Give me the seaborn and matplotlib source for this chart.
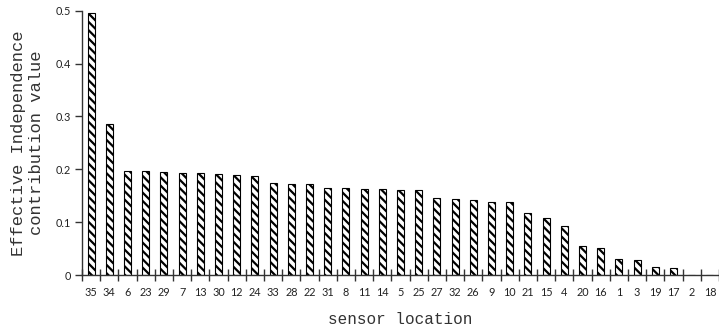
import matplotlib
matplotlib.use("Agg")
import matplotlib.pyplot as plt
import seaborn as sns
import numpy as np
import pandas as pd

sensors = ["35", "34", "6", "23", "29", "7", "13", "30", "12", "24", "33", "28",
           "22", "31", "8", "11", "14", "5", "25", "27", "32", "26", "9", "10",
           "21", "15", "4", "20", "16", "1", "3", "19", "17", "2", "18"]
values = [0.495, 0.285, 0.197, 0.197, 0.195, 0.1935, 0.1935, 0.1916, 0.190, 0.188,
          0.174, 0.172, 0.172, 0.164, 0.164, 0.162, 0.162, 0.160, 0.160, 0.146,
          0.144, 0.141, 0.139, 0.139, 0.117, 0.108, 0.092, 0.055, 0.052, 0.030,
          0.028, 0.015, 0.013, 0.0, 0.0]

sns.set_style("white")
plt.rcParams["hatch.color"] = "black"
plt.rcParams["hatch.linewidth"] = 1.6

df = pd.DataFrame({"sensor": sensors, "value": values})

fig = plt.figure(figsize=(7.19, 3.34), dpi=100)
ax = fig.add_axes([82 / 719, 59 / 334, 1 - 82 / 719, (275 - 10.7) / 334])

sns.barplot(data=df, x="sensor", y="value", order=sensors, color="white",
            edgecolor="black", linewidth=0.8, hatch="\\\\\\\\", width=0.38,
            saturation=1, ax=ax)

ax.set_xlim(-0.5, len(sensors) - 0.5)
ax.set_ylim(0, 0.5)
ax.set_yticks([0, 0.1, 0.2, 0.3, 0.4, 0.5])
ax.set_yticklabels(["0", "0.1", "0.2", "0.3", "0.4", "0.5"])

for s in ["top", "right"]:
    ax.spines[s].set_visible(False)
for s in ["left", "bottom"]:
    ax.spines[s].set_color("#333333")
    ax.spines[s].set_linewidth(1.0)

ax.set_xticks(np.arange(-0.5, len(sensors), 1.0), minor=True)
ax.tick_params(axis="x", which="major", length=0, pad=9)
ax.tick_params(axis="x", which="minor", direction="inout", length=8,
               width=1.0, color="#333333", bottom=True)
ax.tick_params(axis="y", which="major", direction="out", length=5, width=1.0,
               color="#333333", left=True, pad=3)

for lab in ax.get_xticklabels() + ax.get_yticklabels():
    lab.set_fontfamily("Lato")
    lab.set_fontsize(7.8)
    lab.set_color("#222222")

ax.set_xlabel("sensor location", fontfamily="Liberation Mono", fontsize=11.5,
              color="#333333", labelpad=10)
ax.set_ylabel("Effective Independence\ncontribution value",
              fontfamily="Liberation Mono", fontsize=12.3, color="#333333",
              labelpad=8, linespacing=1.3)

fig.savefig("out.png", dpi=100)
